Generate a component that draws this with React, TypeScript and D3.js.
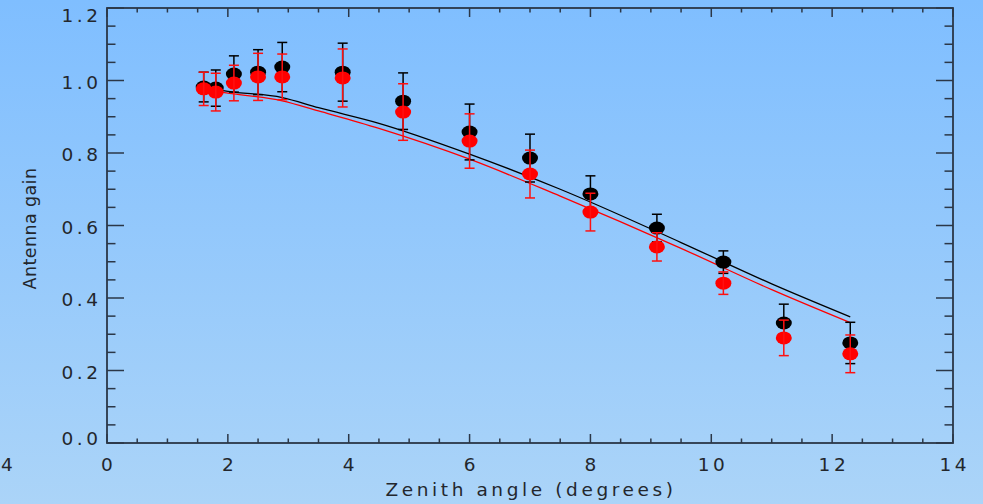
import React from "react";
import * as d3 from "d3";

const zenith = [1.6, 1.8, 2.1, 2.5, 2.9, 3.9, 4.9, 6.0, 7.0, 8.0, 9.1, 10.2, 11.2, 12.3];
const gainBlack = [0.982, 0.979, 1.018, 1.023, 1.037, 1.023, 0.943, 0.858, 0.786, 0.687, 0.593, 0.499, 0.331, 0.276];
const errBlack = [0.041, 0.05, 0.05, 0.062, 0.068, 0.08, 0.078, 0.077, 0.066, 0.05, 0.038, 0.031, 0.052, 0.057];
const gainRed = [0.977, 0.968, 0.993, 1.01, 1.01, 1.007, 0.913, 0.833, 0.742, 0.637, 0.541, 0.441, 0.29, 0.246];
const errRed = [0.046, 0.052, 0.049, 0.065, 0.063, 0.08, 0.078, 0.075, 0.066, 0.052, 0.039, 0.031, 0.049, 0.052];

const modelX = [1.6, 2.0, 2.9, 3.5, 4.5, 6.0, 7.5, 9.5, 11.0, 12.3];
const modelBlack = [0.981, 0.97, 0.953, 0.925, 0.882, 0.797, 0.7, 0.553, 0.439, 0.348];
const modelRed = [0.975, 0.965, 0.944, 0.916, 0.868, 0.783, 0.681, 0.537, 0.423, 0.332];

const xTicks = [0, 2, 4, 6, 8, 10, 12, 14];
const yTicks = [0, 0.2, 0.4, 0.6, 0.8, 1.0, 1.2];
const edgeLabel = "4";
const xTitle = "Zenith angle (degrees)";
const yTitle = "Antenna gain";

const W = 983;
const H = 504;
const L = 107, R = 953, T = 8, B = 443;

export default function App() {
  const x = d3.scaleLinear().domain([0, 14]).range([L, R]);
  const y = d3.scaleLinear().domain([0, 1.2]).range([B, T]);
  const axisColor = "#2b3747";
  const textColor = "#23272d";
  const font = "'DejaVu Sans', Verdana, sans-serif";
  const tickLS = 3.5;
  const tickFS = 18.5;

  const xMinor = d3.range(0, 14.0001, 0.5);
  const yMinor = d3.range(0, 1.2001, 0.05);

  const line = d3
    .line<number>()
    .x((_, i) => x(modelX[i]))
    .y((d) => y(d))
    .curve(d3.curveMonotoneX);

  const isMajorX = (v: number) => Math.abs(v / 2 - Math.round(v / 2)) < 1e-6;
  const isMajorY = (v: number) => Math.abs(v / 0.2 - Math.round(v / 0.2)) < 1e-6;

  const errBars = (vals: number[], errs: number[], color: string) =>
    zenith.map((z, i) => {
      const cx = x(z);
      const y1 = y(vals[i] + errs[i]);
      const y2 = y(vals[i] - errs[i]);
      return (
        <g key={color + i} stroke={color} strokeWidth={1.5}>
          <line x1={cx} x2={cx} y1={y1} y2={y2} />
          <line x1={cx - 5} x2={cx + 5} y1={y1} y2={y1} />
          <line x1={cx - 5} x2={cx + 5} y1={y2} y2={y2} />
        </g>
      );
    });

  const dots = (vals: number[], color: string) =>
    zenith.map((z, i) => (
      <ellipse key={color + "d" + i} cx={x(z)} cy={y(vals[i])} rx={8} ry={6.5} fill={color} />
    ));

  return (
    <div style={{ position: "fixed", left: 0, top: 0 }}>
      <svg width={W} height={H} style={{ display: "block" }}>
        <defs>
          <linearGradient id="bg" x1="0" y1="0" x2="0" y2="1">
            <stop offset="0%" stopColor="#7fbeff" />
            <stop offset="100%" stopColor="#abd4f8" />
          </linearGradient>
        </defs>
        <rect x={0} y={0} width={W} height={H} fill="url(#bg)" />

        {/* model curves */}
        <path d={line(modelBlack) || ""} fill="none" stroke="#000" strokeWidth={1.3} />
        <path d={line(modelRed) || ""} fill="none" stroke="#ff0000" strokeWidth={1.3} />

        {/* data */}
        {dots(gainBlack, "#000")}
        {errBars(gainBlack, errBlack, "#000")}
        {dots(gainRed, "#ff0000")}
        {errBars(gainRed, errRed, "#ff1010")}

        {/* axes box */}
        <rect x={L} y={T} width={R - L} height={B - T} fill="none" stroke={axisColor} strokeWidth={1.8} />
        {xMinor.map((v) => {
          const len = isMajorX(v) ? 9 : 4.5;
          return (
            <g key={"xt" + v} stroke={axisColor} strokeWidth={1.5}>
              <line x1={x(v)} x2={x(v)} y1={B} y2={B - len} />
              <line x1={x(v)} x2={x(v)} y1={T} y2={T + len} />
            </g>
          );
        })}
        {yMinor.map((v) => {
          const len = isMajorY(v) ? 17 : 8.5;
          return (
            <g key={"yt" + v} stroke={axisColor} strokeWidth={1.5}>
              <line x1={L} x2={L + len} y1={y(v)} y2={y(v)} />
              <line x1={R} x2={R - len} y1={y(v)} y2={y(v)} />
            </g>
          );
        })}

        {/* tick labels */}
        {yTicks.map((v) => {
          const cy = Math.min(438, Math.max(15, y(v) + 1.5));
          return (
            <text
              key={"yl" + v}
              x={98 + tickLS}
              y={cy}
              dy="0.36em"
              textAnchor="end"
              fontFamily={font}
              fontSize={tickFS}
              letterSpacing={tickLS}
              fill={textColor}
            >
              {d3.format(".1f")(v)}
            </text>
          );
        })}
        {xTicks.map((v) => (
          <text
            key={"xl" + v}
            x={x(v) + tickLS / 2}
            y={471}
            textAnchor="middle"
            fontFamily={font}
            fontSize={tickFS}
            letterSpacing={tickLS}
            fill={textColor}
          >
            {String(v)}
          </text>
        ))}
        <text x={1} y={471} textAnchor="start" fontFamily={font} fontSize={tickFS} fill={textColor}>
          {edgeLabel}
        </text>

        {/* titles */}
        <text
          x={529 + 2}
          y={496}
          textAnchor="middle"
          fontFamily={font}
          fontSize={18.5}
          letterSpacing={3.6}
          fill={textColor}
        >
          {xTitle}
        </text>
        <text
          transform={`translate(36, ${(T + B) / 2 + 3}) rotate(-90)`}
          textAnchor="middle"
          fontFamily={font}
          fontSize={17.5}
          letterSpacing={0.4}
          fill={textColor}
        >
          {yTitle}
        </text>
      </svg>
    </div>
  );
}
